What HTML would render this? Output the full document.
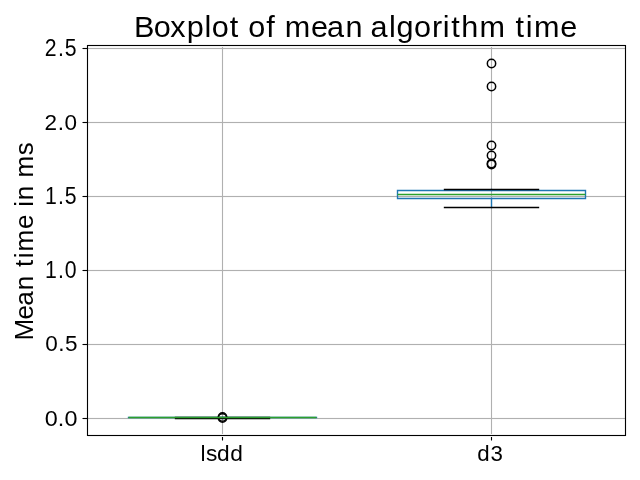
<!DOCTYPE html>
<html><head><meta charset="utf-8"><title>Boxplot of mean algorithm time</title>
<style>html,body{margin:0;padding:0;background:#fff;width:640px;height:480px;overflow:hidden}svg{display:block;will-change:transform}text{font-family:"Liberation Sans",sans-serif;fill:#000}</style></head><body>
<svg width="640" height="480" viewBox="0 0 640 480">
<rect x="0" y="0" width="640" height="480" fill="#fff"/>
<defs><clipPath id="ax"><rect x="87.4" y="45.33" width="537.6" height="389.95"/></clipPath></defs>
<path clip-path="url(#ax)" fill="none" stroke="#fafafa" stroke-width="3" d="M87.5 418.5H625.5M87.5 344.5H625.5M87.5 270.5H625.5M87.5 196.5H625.5M87.5 122.5H625.5M87.5 48.5H625.5"/>
<g clip-path="url(#ax)" stroke="#b0b0b0" stroke-width="1.1111" stroke-linecap="square" fill="none">
<line x1="222.5" y1="45.5" x2="222.5" y2="435.5"/>
<line x1="491.5" y1="45.5" x2="491.5" y2="435.5"/>
<line x1="87.5" y1="418.5" x2="625.5" y2="418.5"/>
<line x1="87.5" y1="344.5" x2="625.5" y2="344.5"/>
<line x1="87.5" y1="270.5" x2="625.5" y2="270.5"/>
<line x1="87.5" y1="196.5" x2="625.5" y2="196.5"/>
<line x1="87.5" y1="122.5" x2="625.5" y2="122.5"/>
<line x1="87.5" y1="48.5" x2="625.5" y2="48.5"/>
</g>
<g stroke="#000" stroke-width="1.1111" fill="none">
<line x1="222.5" y1="435.5" x2="222.5" y2="440.5"/>
<line x1="491.5" y1="435.5" x2="491.5" y2="440.5"/>
<line x1="82.5" y1="418.5" x2="87.5" y2="418.5"/>
<line x1="82.5" y1="344.5" x2="87.5" y2="344.5"/>
<line x1="82.5" y1="270.5" x2="87.5" y2="270.5"/>
<line x1="82.5" y1="196.5" x2="87.5" y2="196.5"/>
<line x1="82.5" y1="122.5" x2="87.5" y2="122.5"/>
<line x1="82.5" y1="48.5" x2="87.5" y2="48.5"/>
</g>
<g clip-path="url(#ax)" fill="none" stroke-width="1.3889" stroke-linecap="square">
<path stroke="#1f77b4" d="M128.5 417.5H316.5"/>
<path stroke="#1f77b4" d="M222.5 417.5V418.5"/>
<path stroke="#000" d="M175.5 418.5H269.5M175.5 417.5H269.5"/>
<g stroke="#000">
<circle cx="222.5" cy="417.0" r="4.1667" stroke-width="1.5"/>
<circle cx="222.5" cy="418.0" r="4.1667" stroke-width="1.5"/>
</g>
<path stroke="#1f77b4" d="M397.5 198.5H585.5V190.5H397.5Z"/>
<path stroke="#1f77b4" d="M491.5 198.5V207.5M491.5 190.5V189.5"/>
<path stroke="#000" d="M444.5 207.5H538.5M444.5 189.5H538.5"/>
<g stroke="#000">
<circle cx="491.5" cy="63.5" r="4.1667" stroke-width="1.5"/>
<circle cx="491.5" cy="86.5" r="4.1667" stroke-width="1.5"/>
<circle cx="491.5" cy="145.5" r="4.1667" stroke-width="1.5"/>
<circle cx="491.5" cy="155.5" r="4.1667" stroke-width="1.5"/>
<circle cx="491.5" cy="163.5" r="4.1667" stroke-width="1.5"/>
<circle cx="491.5" cy="164.5" r="4.1667" stroke-width="1.5"/>
</g>
<path stroke="#2ca02c" stroke-linecap="butt" d="M128.5 417.5H316.5M397.5 194.5H585.5"/>
</g>
<path fill="none" stroke="#f1f1f1" stroke-width="3" d="M87.5 45.5H625.5M87.5 435.5H625.5"/>
<path fill="none" stroke="#000" stroke-width="1.1111" stroke-linecap="square" stroke-linejoin="miter" d="M87.5 45.5V435.5H625.5V45.5Z"/>
<text transform="translate(134.68 36.50) scale(1.0500 1)" x="-0.72 18.14 33.99 49.60 66.39 73.30 90.55 100.02 108.26 125.39 133.93 142.99 168.04 183.20 200.77 217.36 224.59 242.26 249.32 265.96 283.21 293.48 301.44 311.04 328.33 353.45 362.76 372.52 380.23 405.28" y="0" font-size="29.167">Boxplot of mean algorithm time</text>
<text transform="translate(44.55 425.62) scale(1.0200 1)" x="0.12 13.05 19.61" y="0" font-size="22.917">0.0</text>
<text transform="translate(44.80 351.17) scale(1.0200 1)" x="0.35 13.16 19.76" y="0" font-size="22.083">0.5</text>
<text transform="translate(44.30 277.72) scale(0.9200 1)" x="0.66 14.78 22.37" y="0" font-size="23.125">1.0</text>
<text transform="translate(44.30 203.53) scale(0.9200 1)" x="0.66 14.78 22.29" y="0" font-size="23.125">1.5</text>
<text transform="translate(44.30 129.58) scale(1.0200 1)" x="0.08 13.16 19.84" y="0" font-size="22.083">2.0</text>
<text transform="translate(44.30 55.64) scale(0.9200 1)" x="0.47 14.78 22.29" y="0" font-size="23.125">2.5</text>
<text transform="translate(200.26 460.58) scale(1.0200 1)" x="0.36 5.57 16.49 29.45" y="0" font-size="22.292">lsdd</text>
<text transform="translate(476.86 460.58) scale(1.0000 1)" x="0.29 13.68" y="0" font-size="22.292">d3</text>
<text transform="translate(33.08 339.81) rotate(-90) scale(1.0169 1)" x="-0.65 20.10 33.41 48.83 63.39 71.57 80.14 86.90 108.88 123.23 130.87 137.21 151.78 159.73 181.46" y="0" font-size="25.618">Mean time in ms</text>
</svg></body></html>
